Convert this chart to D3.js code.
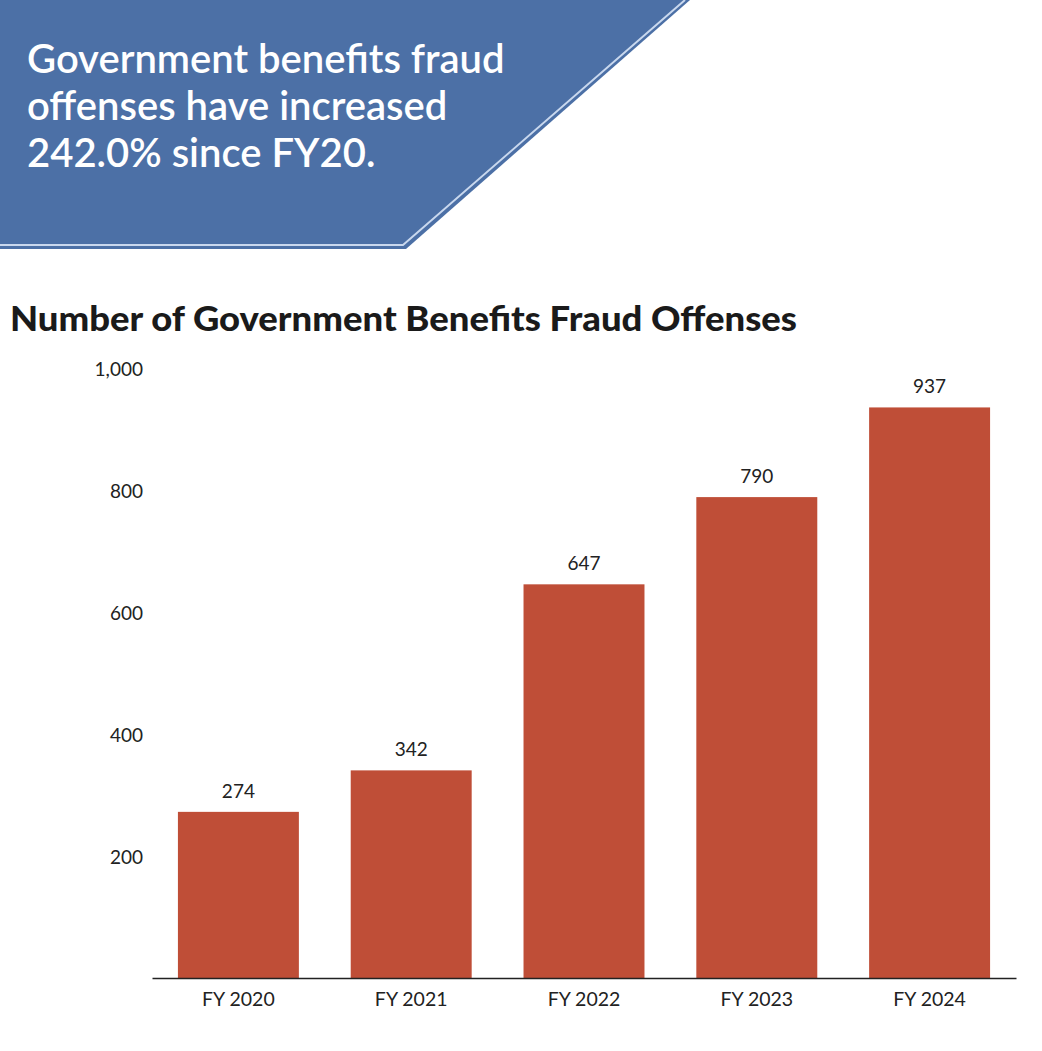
<!DOCTYPE html>
<html><head><meta charset="utf-8">
<script src="https://cdn.jsdelivr.net/npm/d3@7"></script>
<style>body{margin:0;background:#fff;} svg{display:block;font-family:Lato, "Open Sans", sans-serif;}</style>
</head><body>
<svg id="c" width="1042" height="1051"></svg>
<script>
const categories = ["FY 2020","FY 2021","FY 2022","FY 2023","FY 2024"];
const values = [274, 342, 647, 790, 937];
const yTicks = [200, 400, 600, 800, 1000];
const headline = ["Government benefits fraud","offenses have increased","242.0% since FY20."];
const chartTitle = "Number of Government Benefits Fraud Offenses";

const svg = d3.select("#c");
// banner
svg.append("path").attr("d","M0,0 L690,0 L406,249 L0,249 Z").attr("fill","#4c70a6");
svg.append("path").attr("d","M685,0 L403,245 L0,245").attr("fill","none").attr("stroke","#c9d8ee").attr("stroke-width",2);
headline.forEach((t,i)=>{
  svg.append("text").attr("x",27).attr("y",73+i*47).attr("fill","#fff")
    .attr("font-size",40).attr("font-weight",600).text(t);
});
svg.append("text").attr("x",10).attr("y",331).attr("fill","#1a1a1a")
  .attr("font-size",34).attr("font-weight",900)
  .attr("textLength",787).attr("lengthAdjust","spacingAndGlyphs").text(chartTitle);

const x = d3.scaleBand().domain(categories).range([152,1016]).paddingInner(0.3).paddingOuter(0.15);
const y = d3.scaleLinear().domain([0,1000]).range([979,369]);

const g = svg.append("g");
g.selectAll("rect.bar").data(values).join("rect").attr("class","bar")
  .attr("x",(d,i)=>x(categories[i])).attr("width",x.bandwidth())
  .attr("y",d=>y(d)).attr("height",d=>y(0)-y(d)).attr("fill","#bf4e37");
g.selectAll("text.val").data(values).join("text").attr("class","val")
  .attr("x",(d,i)=>x(categories[i])+x.bandwidth()/2).attr("y",d=>y(d)-14)
  .attr("text-anchor","middle").attr("font-size",19).attr("fill","#222").text(d=>d);

const yAxis = svg.append("g").attr("transform","translate(143,0)")
  .call(d3.axisLeft(y).tickValues(yTicks).tickSize(0).tickPadding(0).tickFormat(d3.format(",")));
yAxis.select(".domain").remove();
yAxis.selectAll("text").attr("font-size",19).attr("fill","#222").attr("font-family","Lato");

const xAxis = svg.append("g").attr("transform","translate(0,978)")
  .call(d3.axisBottom(x).tickSize(0).tickPadding(14));
xAxis.select(".domain").attr("stroke","#222").attr("stroke-width",1.5);
xAxis.selectAll("text").attr("font-size",19.5).attr("fill","#222").attr("font-family","Lato");
</script>
</body></html>
